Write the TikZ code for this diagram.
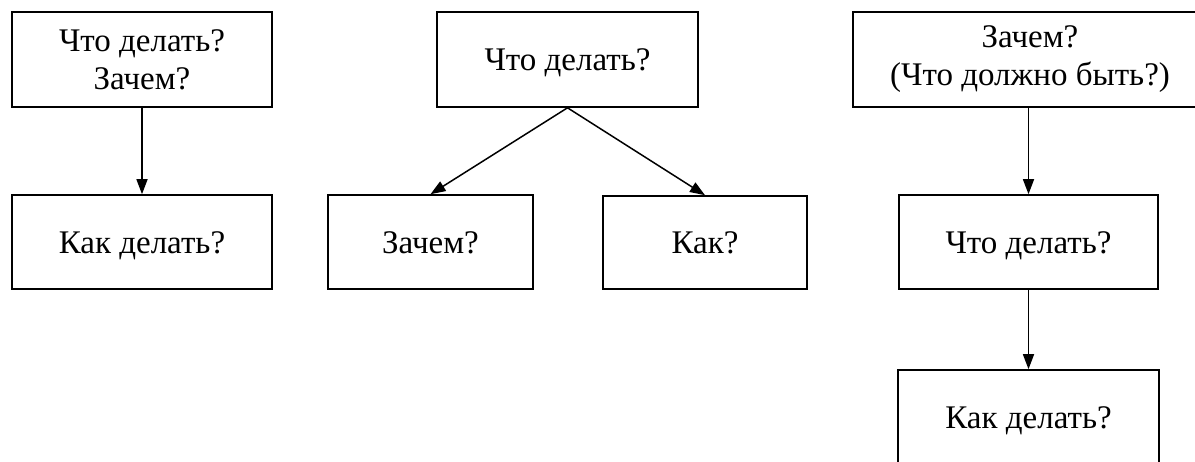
\documentclass[tikz,border=0pt]{standalone}
\usepackage{fontspec}
\setmainfont{Liberation Serif}
\usetikzlibrary{arrows.meta}
\begin{document}
\begin{tikzpicture}[x=1pt,y=-1pt,
  box/.style={draw,line width=1.6pt,inner sep=0pt,align=center,font=\fontsize{33}{38}\selectfont},
  one/.style={text height=22pt,text depth=0pt},
  arr/.style={-{Triangle[length=15pt,width=11pt]},line width=1.5pt}]
\useasboundingbox (0,0) rectangle (1195,461);
\clip (0,0) rectangle (1195,461);
% left column
\node[box,minimum width=260pt,minimum height=95pt] (a1) at (142,59.5) {Что делать?\\Зачем?};
\node[box,one,minimum width=260pt,minimum height=94pt] (a2) at (142,242) {Как делать?};
\draw[arr] (a1) -- (a2);
% middle tree
\node[box,one,minimum width=261pt,minimum height=95pt] (b1) at (567.5,59.5) {Что делать?};
\node[box,one,minimum width=205pt,minimum height=94pt] (b2) at (430.5,242) {Зачем?};
\node[box,one,minimum width=204pt,minimum height=93pt] (b3) at (705,242.5) {Как?};
\draw[arr] (b1.south) -- (b2.north);
\draw[arr] (b1.south) -- (b3.north);
% right column
\node[box,minimum width=354pt,minimum height=95pt] (c1) at (1030,59.5) {Зачем?\\(Что должно быть?)};
\node[box,one,minimum width=259pt,minimum height=94pt] (c2) at (1028.5,242) {Что делать?};
\node[box,one,minimum width=261pt,minimum height=94pt] (c3) at (1028.5,417) {Как делать?};
\draw[arr] (c1.south -| c2.north) -- (c2.north);
\draw[arr] (c2) -- (c3);
\end{tikzpicture}
\end{document}
